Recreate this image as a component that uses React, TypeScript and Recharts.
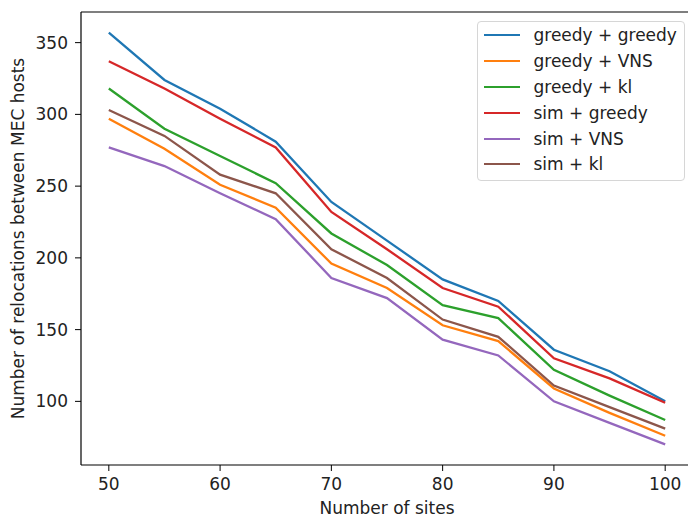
import React from 'react'
import { LineChart, Line, XAxis, YAxis } from 'recharts'

const sites = [50, 55, 60, 65, 70, 75, 80, 85, 90, 95, 100]

const greedyGreedy = [357, 324, 304, 281, 239, 212, 185, 170, 136, 121, 100]
const greedyVns = [297, 276, 251, 235, 196, 179, 153, 142, 109, 92, 76]
const greedyKl = [318, 290, 271, 252, 217, 195, 167, 158, 122, 104, 87]
const simGreedy = [337, 318, 297, 277, 232, 206, 179, 166, 130, 116, 99]
const simVns = [277, 264, 245, 227, 186, 172, 143, 132, 100, 85, 70]
const simKl = [303, 285, 258, 245, 206, 186, 157, 145, 111, 96, 81]

const xTicks = [50, 60, 70, 80, 90, 100]
const yTicks = [100, 150, 200, 250, 300, 350]

const series = [
  { key: 'gg', name: 'greedy + greedy', values: greedyGreedy, color: '#1f77b4' },
  { key: 'gv', name: 'greedy + VNS', values: greedyVns, color: '#ff7f0e' },
  { key: 'gk', name: 'greedy + kl', values: greedyKl, color: '#2ca02c' },
  { key: 'sg', name: 'sim + greedy', values: simGreedy, color: '#d62728' },
  { key: 'sv', name: 'sim + VNS', values: simVns, color: '#9467bd' },
  { key: 'sk', name: 'sim + kl', values: simKl, color: '#8c564b' },
]

const data = sites.map((s, i) => {
  const row: Record<string, number> = { sites: s }
  series.forEach(sr => { row[sr.key] = sr.values[i] })
  return row
})

const FONT = '"DejaVu Sans", sans-serif'
const tickStyle = { fontSize: 17, fill: '#222', fontFamily: FONT }

// legend drawn as an overlay so it doesn't eat into the plot area
const LegendBox = () => (
  <div style={{
    position: 'absolute', left: 477, top: 21, width: 206,
    border: '1px solid #d6d6d6', borderRadius: 4, background: 'rgba(255,255,255,0.8)',
    padding: '0.5px 0 3px 0', fontFamily: FONT, fontSize: 17, color: '#222',
  }}>
    {series.map(s => (
      <div key={s.key} style={{ display: 'flex', alignItems: 'center', height: 25.8 }}>
        <div style={{ width: 36, height: 2, background: s.color, marginLeft: 6, marginRight: 13.5 }} />
        <span>{s.name}</span>
      </div>
    ))}
  </div>
)

export default function App() {
  return (
    <div style={{ position: 'fixed', left: 0, top: 0, width: 688, height: 519, overflow: 'hidden', background: '#fff' }}>
      <LineChart width={700} height={519} data={data} margin={{ top: 11, right: 7, left: 0, bottom: 0 }}>
        <XAxis
          dataKey="sites" type="number" domain={[47.5, 102.5]} ticks={xTicks}
          height={54} tickSize={6} tickMargin={7} tick={tickStyle}
          stroke="#000" axisLine={{ stroke: '#000', strokeWidth: 1.2 }}
          label={{
            content: (p: any) => {
              const vb = p.viewBox
              return (
                <text x={vb.x + vb.width / 2} y={514} textAnchor="middle"
                  style={{ fontSize: 17, fontFamily: FONT, fill: '#222' }}>Number of sites</text>
              )
            },
          }}
        />
        <XAxis xAxisId="top" dataKey="sites" orientation="top" type="number" domain={[47.5, 102.5]} height={1}
          ticks={xTicks} tick={false} tickLine={false} stroke="#000" axisLine={{ stroke: '#000', strokeWidth: 1.2 }} />
        <YAxis
          type="number" domain={[55.65, 371.35]} ticks={yTicks} allowDataOverflow
          width={81} tickSize={6} tickMargin={7} tick={tickStyle}
          stroke="#000" axisLine={{ stroke: '#000', strokeWidth: 1.2 }}
          label={{
            content: (p: any) => {
              const vb = p.viewBox
              const cy = vb.y + vb.height / 2
              return (
                <text x={18} y={cy} textAnchor="middle" dominantBaseline="central"
                  transform={`rotate(-90, 18, ${cy})`}
                  style={{ fontSize: 17, fontFamily: FONT, fill: '#222' }}>
                  Number of relocations between MEC hosts
                </text>
              )
            },
          }}
        />
        <YAxis yAxisId="right" orientation="right" type="number" domain={[55.65, 371.35]} width={0}
          tick={false} tickLine={false} axisLine={{ stroke: '#000', strokeWidth: 1.2 }} />
        {series.map(s => (
          <Line key={s.key} dataKey={s.key} name={s.name} type="linear" stroke={s.color}
            strokeWidth={2.3} dot={false} isAnimationActive={false} />
        ))}
        {/* invisible series bound to the top axis so it renders */}
        <Line xAxisId="top" dataKey="gg" stroke="none" dot={false} legendType="none" isAnimationActive={false} />
      </LineChart>
      <LegendBox />
    </div>
  )
}
